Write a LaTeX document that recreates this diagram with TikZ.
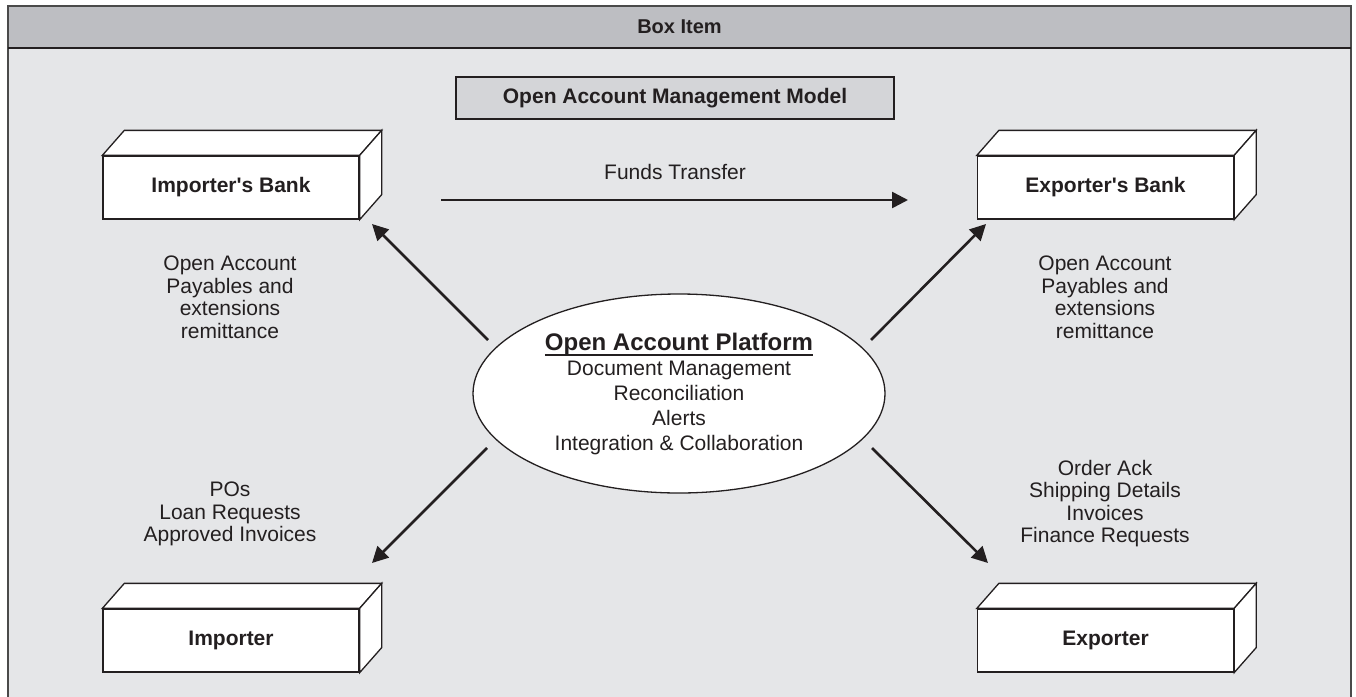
\documentclass[tikz,border=0pt]{standalone}
\usepackage{fontspec}
\setmainfont{Liberation Sans}
\usetikzlibrary{arrows.meta,shapes.geometric,calc}
\definecolor{framec}{HTML}{4A4A4A}
\definecolor{hdr}{HTML}{BDBEC2}
\definecolor{bg}{HTML}{E5E6E8}
\definecolor{ttl}{HTML}{D4D5D8}
\definecolor{ink}{HTML}{231F20}
\newcommand\myul[1]{\leavevmode\setbox0\hbox{#1}\rlap{\rule[-5.5pt]{\wd0}{1.8pt}}\box0}
\newcommand\cubefaces[1]{%
  \draw[draw=ink, line width=1.3pt, fill=white, line join=miter]
    (#1.north west) -- ++(22,-25) -- ([shift={(22,-25)}]#1.north east) -- (#1.north east) -- cycle;
  \draw[draw=ink, line width=1.3pt, fill=white, line join=miter]
    (#1.north east) -- ++(22,-25) -- ([shift={(22,-25)}]#1.south east) -- (#1.south east) -- cycle;}
\begin{document}
\begin{tikzpicture}[x=1pt,y=-1pt,
  every node/.style={text=ink},
  cube/.style={draw=ink, line width=1.3pt, fill=white, minimum width=256pt, minimum height=63pt, inner sep=0pt, font=\fontsize{21}{25}\selectfont\bfseries},
  arr/.style={draw=ink, line width=2.6pt, -{Triangle[length=16pt,width=16pt]}},
  lbl/.style={align=center, font=\fontsize{21}{22.5}\selectfont}
]
\useasboundingbox (0,0) rectangle (1356,696);
% frame
\fill[bg] (8,48) rectangle (1351,700);
\fill[hdr] (8,6) rectangle (1351,48);
\draw[framec, line width=2pt] (8,700) -- (8,6) -- (1351,6) -- (1351,700);
\draw[ink, line width=1.5pt] (8,48) -- (1351,48);
\node[font=\fontsize{20}{24}\selectfont\bfseries] (hdrtext) at (679.5,27) {Box Item};
% title
\node[draw=ink, line width=1.3pt, fill=ttl, minimum width=438pt, minimum height=42pt, inner sep=0pt,
  font=\fontsize{21}{25}\selectfont\bfseries] (title) at (675,98) {Open Account Management Model};
% cubes
\node[cube] (ib) at (231,187.5) {Importer\textquotesingle s Bank};
\cubefaces{ib}
\node[cube] (eb) at (1105.5,187.5) {Exporter\textquotesingle s Bank};
\cubefaces{eb}
\node[cube] (im) at (231,640.5) {Importer};
\cubefaces{im}
\node[cube] (ex) at (1105.5,640.5) {Exporter};
\cubefaces{ex}
% platform
\node[draw=ink, line width=1.3pt, fill=white, ellipse, minimum width=412pt, minimum height=199pt, inner sep=0pt] (plat) at (679,393.5) {};
\node[align=center, font=\fontsize{21}{25}\selectfont] (plattext) at (679,394)
  {{\fontsize{24}{25}\selectfont\bfseries\myul{Open Account Platform}}\\Document Management\\Reconciliation\\Alerts\\Integration \& Collaboration};
% funds transfer
\node[font=\fontsize{21}{25}\selectfont] (ftl) at (675,172) {Funds Transfer};
\coordinate (ftS) at (441,200);
\coordinate (ftE) at (908,200);
\draw[arr] (ftS) -- (ftE);
% diagonal arrows
\coordinate (nwS) at (488,340); \coordinate (nwE) at (372,224);
\coordinate (neS) at (871,340); \coordinate (neE) at (986,224);
\coordinate (swS) at (487,448); \coordinate (swE) at (372,563);
\coordinate (seS) at (872,448); \coordinate (seE) at (988,563);
\draw[arr] (nwS) -- (nwE);
\draw[arr] (neS) -- (neE);
\draw[arr] (swS) -- (swE);
\draw[arr] (seS) -- (seE);
% labels
\node[lbl] (libl) at (230,297.5) {Open Account\\Payables and\\extensions\\remittance};
\node[lbl] (rebl) at (1105,297.5) {Open Account\\Payables and\\extensions\\remittance};
\node[lbl] (liml) at (230,514) {POs\\Loan Requests\\Approved Invoices};
\node[lbl] (rexl) at (1105,503.5) {Order Ack\\Shipping Details\\Invoices\\Finance Requests};
\end{tikzpicture}
\end{document}
